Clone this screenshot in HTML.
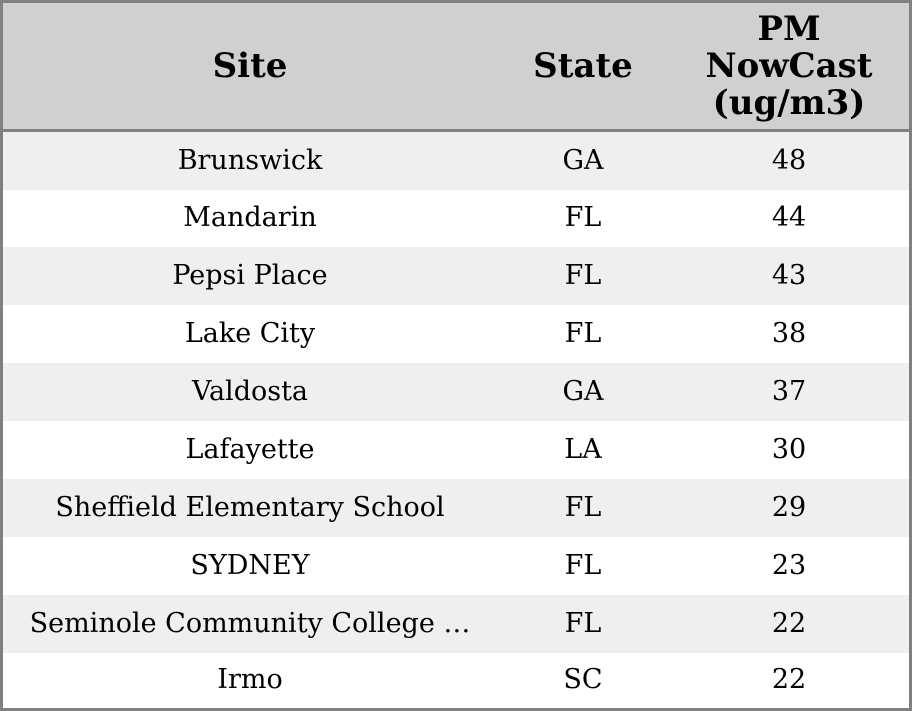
<!DOCTYPE html>
<html><head><style>
body{margin:0;width:912px;height:711px;overflow:hidden;background:#fff;font-family:"DejaVu Serif","Liberation Serif",serif;}
.wrap{position:absolute;left:0;top:0;width:906px;height:705px;border:3px solid #808080;}
.hdr{position:absolute;left:0;top:0;width:906px;height:126px;background:#d0d0d0;border-bottom:3px solid #808080;}
.row{position:absolute;left:0;width:906px;height:58px;}
.c{position:absolute;top:0;height:100%;display:flex;align-items:center;justify-content:center;text-align:center;color:#000;}
.c1{left:0;width:494px}.c2{left:494px;width:172px}.c3{left:666px;width:240px}
.hdr .c{font-weight:bold;font-size:34px;line-height:37px}
.row .c{font-size:27px;padding-bottom:2px;box-sizing:border-box}
</style></head><body>
<div class="wrap">
<div class="hdr"><div class="c c1">Site</div><div class="c c2">State</div><div class="c c3">PM<br>NowCast<br>(ug/m3)</div></div>
<div class="row" style="top:129px;background:#efefef"><div class="c c1">Brunswick</div><div class="c c2">GA</div><div class="c c3">48</div></div>
<div class="row" style="top:186px"><div class="c c1">Mandarin</div><div class="c c2">FL</div><div class="c c3">44</div></div>
<div class="row" style="top:244px;background:#efefef"><div class="c c1">Pepsi Place</div><div class="c c2">FL</div><div class="c c3">43</div></div>
<div class="row" style="top:302px"><div class="c c1">Lake City</div><div class="c c2">FL</div><div class="c c3">38</div></div>
<div class="row" style="top:360px;background:#efefef"><div class="c c1">Valdosta</div><div class="c c2">GA</div><div class="c c3">37</div></div>
<div class="row" style="top:418px"><div class="c c1">Lafayette</div><div class="c c2">LA</div><div class="c c3">30</div></div>
<div class="row" style="top:476px;background:#efefef"><div class="c c1">Sheffield Elementary School</div><div class="c c2">FL</div><div class="c c3">29</div></div>
<div class="row" style="top:534px"><div class="c c1">SYDNEY</div><div class="c c2">FL</div><div class="c c3">23</div></div>
<div class="row" style="top:592px;background:#efefef"><div class="c c1">Seminole Community College …</div><div class="c c2">FL</div><div class="c c3">22</div></div>
<div class="row" style="top:650px;height:55px"><div class="c c1">Irmo</div><div class="c c2">SC</div><div class="c c3">22</div></div>
</div>
</body></html>
